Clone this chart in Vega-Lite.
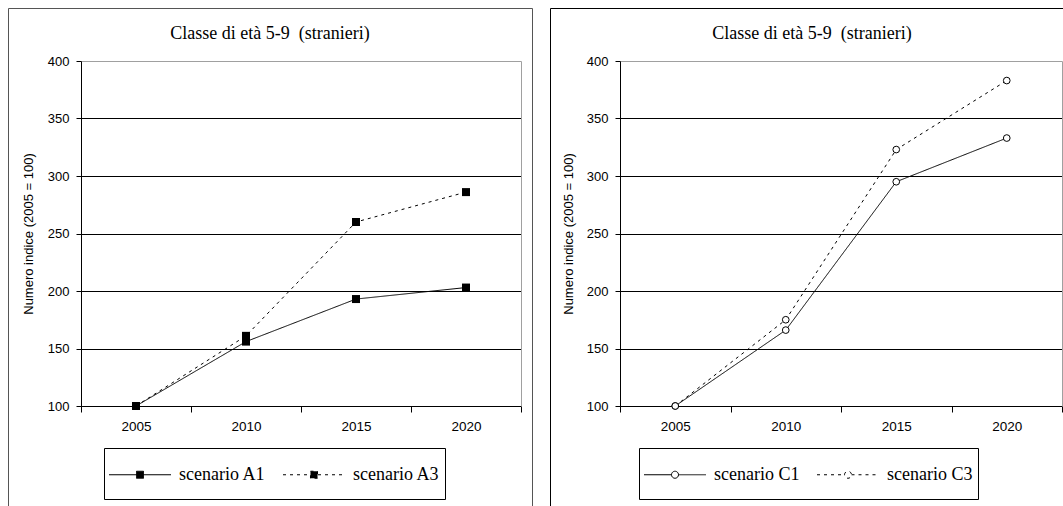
{
  "$schema": "https://vega.github.io/schema/vega-lite/v6.json",
  "background": "white",
  "padding": {"left": 7, "top": 7, "right": 0, "bottom": 0},
  "spacing": 16,
  "resolve": {"scale": {"strokeDash": "independent"}, "legend": {"strokeDash": "independent"}},
  "config": {
    "axis": {"domainColor": "black", "tickColor": "black", "labelColor": "black", "titleColor": "black", "labelFont": "Liberation Sans", "titleFont": "Liberation Sans"},
    "legend": {"labelColor": "black"}
  },
  "hconcat": [
    {
      "width": 524,
      "height": 510,
      "view": {"stroke": "#555555", "strokeWidth": 1, "fill": "white"},
      "title": {"text": "Classe di età 5-9\u00a0 (stranieri)", "font": "Liberation Serif", "fontSize": 18, "fontWeight": "normal", "color": "black", "anchor": "middle", "frame": "group", "offset": -49, "baseline": "alphabetic"},
      "data": {"values": [
        {"scenario": "scenario A1", "year": "2005", "value": 100},
        {"scenario": "scenario A1", "year": "2010", "value": 156},
        {"scenario": "scenario A1", "year": "2015", "value": 193},
        {"scenario": "scenario A1", "year": "2020", "value": 203},
        {"scenario": "scenario A3", "year": "2005", "value": 100},
        {"scenario": "scenario A3", "year": "2010", "value": 161},
        {"scenario": "scenario A3", "year": "2015", "value": 260},
        {"scenario": "scenario A3", "year": "2020", "value": 286}
      ]},
      "resolve": {"axis": {"y": "independent"}},
      "layer": [
        {
          "mark": {"type": "line", "color": "black", "strokeWidth": 1},
          "encoding": {
            "x": {"field": "year", "type": "ordinal", "bandPosition": 0.5,
              "scale": {"type": "band", "range": [73, 513], "paddingInner": 0, "paddingOuter": 0},
              "axis": {"title": null, "orient": "bottom", "offset": -112, "tickBand": "extent", "tickSize": 6, "labelPadding": 7, "labelAngle": 0, "labelFontSize": 13.5, "grid": false}},
            "y": {"field": "value", "type": "quantitative",
              "scale": {"domain": [100, 400], "range": [398, 53], "nice": false, "zero": false},
              "axis": {"values": [100, 150, 200, 250, 300, 350, 400], "title": "Numero indice (2005 = 100)", "offset": -73, "tickSize": 5, "labelPadding": 7, "labelFontSize": 13,
                "grid": true, "gridOpacity": 1, "gridColor": {"condition": {"test": "datum.value == 400", "value": "#a0a0a0"}, "value": "black"},
                "titleX": -53, "titleY": 225.5, "titleAngle": 270, "titleBaseline": "middle", "titleFontWeight": "normal", "titleFontSize": 13}},
            "strokeDash": {"field": "scenario", "type": "nominal",
              "scale": {"domain": ["scenario A1", "scenario A3"], "range": [[1, 0], [3, 4]]},
              "legend": {"title": " ", "titleOrient": "bottom", "titleFontSize": 10, "titlePadding": 0,
                "orient": "none", "legendX": 96, "legendY": 440, "direction": "horizontal",
                "strokeColor": "black", "fillColor": "white", "padding": 5,
                "symbolType": "M-1.476,0H1.476M-0.167,-0.167H0.167V0.167H-0.167Z",
                "symbolSize": 1764, "symbolStrokeWidth": 1, "symbolStrokeColor": "black", "symbolFillColor": "black",
                "symbolOffset": 9.5, "labelOffset": 17.5, "columnPadding": 15,
                "labelFont": "Liberation Serif", "labelFontSize": 18, "labelLimit": 300,
                "encode": {"symbols": {"update": {"fill": {"value": "black"}, "stroke": {"value": "black"}, "opacity": {"value": 1}}}}}}
          }
        },
        {
          "mark": {"type": "point", "shape": "square", "filled": true, "size": 64, "color": "black", "opacity": 1},
          "encoding": {
            "x": {"field": "year", "type": "ordinal", "bandPosition": 0.5},
            "y": {"field": "value", "type": "quantitative",
              "axis": {"orient": "right", "offset": -11, "labels": false, "ticks": false, "grid": false, "title": null, "domainColor": "#a0a0a0"}}
          }
        }
      ]
    },
    {
      "width": 524,
      "height": 510,
      "view": {"stroke": "black", "strokeWidth": 1, "fill": "white"},
      "title": {"text": "Classe di età 5-9\u00a0 (stranieri)", "font": "Liberation Serif", "fontSize": 18, "fontWeight": "normal", "color": "black", "anchor": "middle", "frame": "group", "offset": -49, "baseline": "alphabetic"},
      "data": {"values": [
        {"scenario": "scenario C1", "year": "2005", "value": 100},
        {"scenario": "scenario C1", "year": "2010", "value": 166},
        {"scenario": "scenario C1", "year": "2015", "value": 295},
        {"scenario": "scenario C1", "year": "2020", "value": 333},
        {"scenario": "scenario C3", "year": "2005", "value": 100},
        {"scenario": "scenario C3", "year": "2010", "value": 175},
        {"scenario": "scenario C3", "year": "2015", "value": 323},
        {"scenario": "scenario C3", "year": "2020", "value": 383}
      ]},
      "resolve": {"axis": {"y": "independent"}},
      "layer": [
        {
          "mark": {"type": "line", "color": "black", "strokeWidth": 1},
          "encoding": {
            "x": {"field": "year", "type": "ordinal", "bandPosition": 0.5,
              "scale": {"type": "band", "range": [70, 512], "paddingInner": 0, "paddingOuter": 0},
              "axis": {"title": null, "orient": "bottom", "offset": -112, "tickBand": "extent", "tickSize": 6, "labelPadding": 7, "labelAngle": 0, "labelFontSize": 13.5, "grid": false}},
            "y": {"field": "value", "type": "quantitative",
              "scale": {"domain": [100, 400], "range": [398, 53], "nice": false, "zero": false},
              "axis": {"values": [100, 150, 200, 250, 300, 350, 400], "title": "Numero indice (2005 = 100)", "offset": -70, "tickSize": 5, "labelPadding": 7, "labelFontSize": 13,
                "grid": true, "gridOpacity": 1, "gridColor": {"condition": {"test": "datum.value == 400", "value": "#a0a0a0"}, "value": "black"},
                "titleX": -52, "titleY": 225.5, "titleAngle": 270, "titleBaseline": "middle", "titleFontWeight": "normal", "titleFontSize": 13}},
            "strokeDash": {"field": "scenario", "type": "nominal",
              "scale": {"domain": ["scenario C1", "scenario C3"], "range": [[1, 0], [3, 4]]},
              "legend": {"title": " ", "titleOrient": "bottom", "titleFontSize": 10, "titlePadding": 0,
                "orient": "none", "legendX": 89, "legendY": 440, "direction": "horizontal",
                "strokeColor": "black", "fillColor": "white", "padding": 5,
                "symbolType": "M-1.476,0H-0.167M0.167,0H1.476M-0.167,0A0.167,0.167 0 1,1 0.167,0A0.167,0.167 0 1,1 -0.167,0Z",
                "symbolSize": 1764, "symbolStrokeWidth": 1, "symbolStrokeColor": "black", "symbolFillColor": "white",
                "symbolOffset": 9.5, "labelOffset": 17.5, "columnPadding": 15,
                "labelFont": "Liberation Serif", "labelFontSize": 18, "labelLimit": 300,
                "encode": {"symbols": {"update": {"fill": {"value": "white"}, "stroke": {"value": "black"}, "opacity": {"value": 1}}}}}}
          }
        },
        {
          "mark": {"type": "point", "shape": "circle", "filled": false, "fill": "white", "stroke": "black", "strokeWidth": 1, "size": 45, "opacity": 1},
          "encoding": {
            "x": {"field": "year", "type": "ordinal", "bandPosition": 0.5},
            "y": {"field": "value", "type": "quantitative",
              "axis": {"orient": "right", "offset": -12, "labels": false, "ticks": false, "grid": false, "title": null, "domainColor": "#a0a0a0"}}
          }
        }
      ]
    }
  ]
}
